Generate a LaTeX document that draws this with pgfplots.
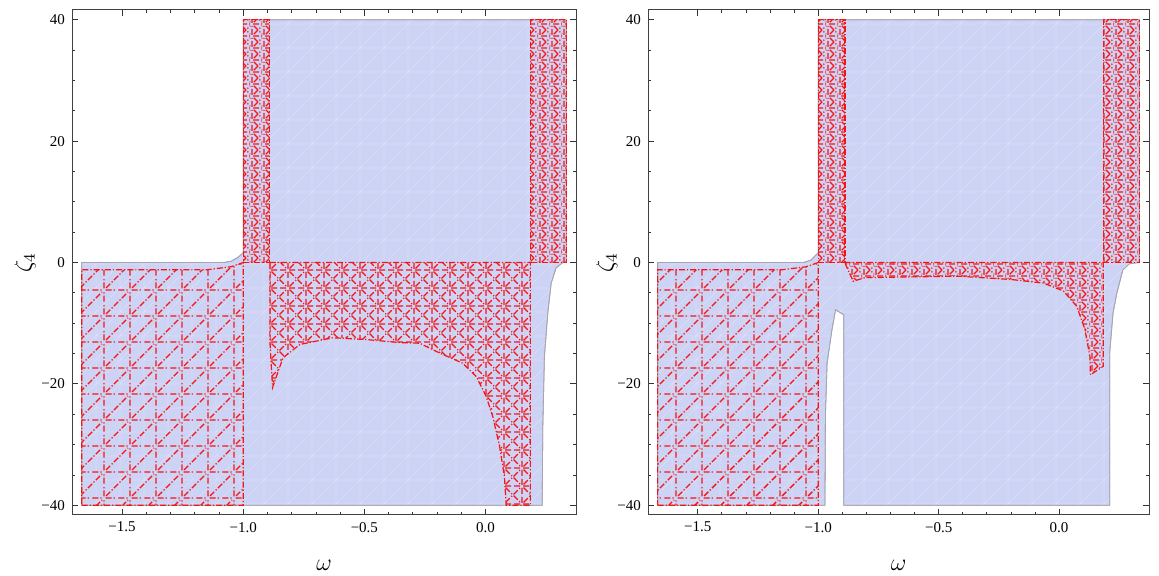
\documentclass[border=0pt]{standalone}
\usepackage{pgfplots}
\pgfplotsset{compat=1.18}
\usepackage{fontspec}
\setmainfont{Liberation Serif}
\usetikzlibrary{patterns}

\definecolor{regblue}{RGB}{205,211,244}
\definecolor{regline}{RGB}{218,222,248}
\definecolor{edge}{RGB}{165,165,178}
\definecolor{hatch}{RGB}{245,20,20}

% sparse mesh: horizontal, vertical, one diagonal (dashed look)
\pgfdeclarepatternformonly{meshS}{\pgfqpoint{-1pt}{-1pt}}{\pgfqpoint{14pt}{14pt}}{\pgfqpoint{13pt}{13pt}}{%
  \pgfsetlinewidth{0.7pt}%
  \pgfpathmoveto{\pgfqpoint{0.8pt}{0pt}}\pgfpathlineto{\pgfqpoint{5.8pt}{0pt}}%
  \pgfpathmoveto{\pgfqpoint{7.2pt}{0pt}}\pgfpathlineto{\pgfqpoint{12.2pt}{0pt}}%
  \pgfpathmoveto{\pgfqpoint{0pt}{0.8pt}}\pgfpathlineto{\pgfqpoint{0pt}{5.8pt}}%
  \pgfpathmoveto{\pgfqpoint{0pt}{7.2pt}}\pgfpathlineto{\pgfqpoint{0pt}{12.2pt}}%
  \pgfpathmoveto{\pgfqpoint{1pt}{1pt}}\pgfpathlineto{\pgfqpoint{12pt}{12pt}}%
  \pgfusepath{stroke}}
% medium mesh: four directions
\pgfdeclarepatternformonly{meshM}{\pgfqpoint{-1pt}{-1pt}}{\pgfqpoint{10pt}{10pt}}{\pgfqpoint{9pt}{9pt}}{%
  \pgfsetlinewidth{0.65pt}%
  \pgfpathmoveto{\pgfqpoint{0.6pt}{0pt}}\pgfpathlineto{\pgfqpoint{4pt}{0pt}}%
  \pgfpathmoveto{\pgfqpoint{5pt}{0pt}}\pgfpathlineto{\pgfqpoint{8.4pt}{0pt}}%
  \pgfpathmoveto{\pgfqpoint{0pt}{0.6pt}}\pgfpathlineto{\pgfqpoint{0pt}{4pt}}%
  \pgfpathmoveto{\pgfqpoint{0pt}{5pt}}\pgfpathlineto{\pgfqpoint{0pt}{8.4pt}}%
  \pgfpathmoveto{\pgfqpoint{0.8pt}{0.8pt}}\pgfpathlineto{\pgfqpoint{8.2pt}{8.2pt}}%
  \pgfpathmoveto{\pgfqpoint{0.8pt}{8.2pt}}\pgfpathlineto{\pgfqpoint{8.2pt}{0.8pt}}%
  \pgfusepath{stroke}}
% dense mesh
\pgfdeclarepatternformonly{meshD}{\pgfqpoint{-1pt}{-1pt}}{\pgfqpoint{7pt}{7pt}}{\pgfqpoint{6pt}{6pt}}{%
  \pgfsetlinewidth{0.6pt}%
  \pgfpathmoveto{\pgfqpoint{0.5pt}{0pt}}\pgfpathlineto{\pgfqpoint{5.5pt}{0pt}}%
  \pgfpathmoveto{\pgfqpoint{0pt}{0.5pt}}\pgfpathlineto{\pgfqpoint{0pt}{5.5pt}}%
  \pgfpathmoveto{\pgfqpoint{0.9pt}{0.9pt}}\pgfpathlineto{\pgfqpoint{5.1pt}{5.1pt}}%
  \pgfpathmoveto{\pgfqpoint{0.9pt}{5.1pt}}\pgfpathlineto{\pgfqpoint{5.1pt}{0.9pt}}%
  \pgfusepath{stroke}}
% faint mesh on the blue region
\pgfdeclarepatternformonly{meshW}{\pgfqpoint{-1pt}{-1pt}}{\pgfqpoint{13pt}{13pt}}{\pgfqpoint{12pt}{12pt}}{%
  \pgfsetlinewidth{0.35pt}%
  \pgfpathmoveto{\pgfqpoint{0pt}{0pt}}\pgfpathlineto{\pgfqpoint{12pt}{0pt}}%
  \pgfpathmoveto{\pgfqpoint{0pt}{0pt}}\pgfpathlineto{\pgfqpoint{0pt}{12pt}}%
  \pgfpathmoveto{\pgfqpoint{0pt}{0pt}}\pgfpathlineto{\pgfqpoint{12pt}{12pt}}%
  \pgfusepath{stroke}}

\pgfplotsset{
  myax/.style={
    scale only axis, height=252.5pt,
    xmin=-1.70667, xmax=0.37333, ymin=-41.6, ymax=41.6,
    xtick={-1.5,-1,-0.5,0}, xticklabels={−1.5,−1.0,−0.5,0.0},
    ytick={-40,-20,0,20,40}, yticklabels={−40,−20,0,20,40},
    minor x tick num=4, minor y tick num=3,
    tick align=inside, tick pos=both,
    major tick length=3pt, minor tick length=1.7pt,
    axis line style={black!75, line width=0.5pt},
    tick style={black!80, line width=0.4pt},
    ticklabel style={font=\fontsize{7.5}{9}\selectfont},
    xlabel={$\omega$}, ylabel={$\zeta_4$},
    label style={font=\fontsize{11.5}{13}\selectfont},
    xlabel style={at={(axis description cs:0.5,-0.099)}, anchor=center},
    axis on top,
  },
  blue/.style={fill=regblue, draw=edge, line width=0.4pt,
    postaction={pattern=meshW, pattern color=regline}},
  redS/.style={pattern=meshS, pattern color=hatch, draw=hatch, line width=0.6pt,
    dash pattern=on 3pt off 1pt on 0.6pt off 1pt},
  redM/.style={pattern=meshM, pattern color=hatch, draw=hatch, line width=0.6pt,
    dash pattern=on 3pt off 1pt on 0.6pt off 1pt},
  redD/.style={pattern=meshD, pattern color=hatch, draw=hatch, line width=0.6pt,
    dash pattern=on 3pt off 1pt on 0.6pt off 1pt},
}

\begin{document}
\begin{tikzpicture}
\useasboundingbox (0,0) rectangle (579.5pt,288pt);

% ---------------- left panel ----------------
\begin{axis}[myax, at={(36pt,30.5pt)}, anchor=south west, width=252pt,
  ylabel style={at={(axis description cs:-0.093,0.5)}, anchor=center}]
\addplot[blue] coordinates {
 (-1.6667,-40) (0.234,-40) (0.236,-27.6) (0.243,-15.5) (0.257,-8.3) (0.271,-3.4)
 (0.291,-0.9) (0.319,0) (0.3333,0) (0.3333,40) (-1.0,40) (-1.0,1.6) (-1.02,0.9)
 (-1.05,0.2) (-1.08,0) (-1.6667,0) (-1.6667,-40)};
% red strips above
\addplot[redD] coordinates {(-1.0,0) (-0.892,0) (-0.892,40) (-1.0,40) (-1.0,0)};
\addplot[redD] coordinates {(0.186,0) (0.3333,0) (0.3333,40) (0.186,40) (0.186,0)};
% lower-left block
\addplot[redS] coordinates {(-1.6667,-40) (-1.0,-40) (-1.0,0) (-1.05,-0.7) (-1.15,-1.2)
 (-1.6667,-1.2) (-1.6667,-40)};
% lower-middle region
\addplot[redM] coordinates {
 (-0.89,0) (0.185,0) (0.185,-40) (0.085,-40) (0.078,-35.3) (0.058,-30.3) (0.03,-25.4)
 (0.003,-22.1) (-0.038,-18.8) (-0.094,-16.6) (-0.19,-14.9) (-0.272,-13.3) (-0.354,-13.2)
 (-0.49,-12.7) (-0.63,-12.4) (-0.766,-13.5) (-0.836,-15.7) (-0.879,-20.6) (-0.89,-13)
 (-0.89,0)};
\end{axis}

% ---------------- right panel ----------------
\begin{axis}[myax, at={(324pt,30.5pt)}, anchor=south west, width=250.5pt,
  ylabel style={at={(axis description cs:-0.082,0.5)}, anchor=center}]
\addplot[blue] coordinates {
 (-1.6667,-40) (-0.972,-40) (-0.97,-25) (-0.963,-16.5) (-0.943,-11.1) (-0.928,-7.8)
 (-0.894,-8.6) (-0.894,-40) (0.21,-40) (0.21,-14.9) (0.224,-8.3) (0.24,-5) (0.265,-1.2)
 (0.292,-0.2) (0.3333,0) (0.3333,40) (-1.0,40) (-1.0,1.6) (-1.03,0.4) (-1.06,0)
 (-1.6667,0) (-1.6667,-40)};
\addplot[redD] coordinates {(-1.0,0) (-0.889,0) (-0.889,40) (-1.0,40) (-1.0,0)};
\addplot[redD] coordinates {(0.184,0) (0.3333,0) (0.3333,40) (0.184,40) (0.184,0)};
\addplot[redS] coordinates {(-1.6667,-40) (-1.0,-40) (-1.0,0) (-1.05,-0.7) (-1.15,-1.2)
 (-1.6667,-1.2) (-1.6667,-40)};
\addplot[redD] coordinates {
 (-0.89,0) (0.183,0) (0.183,-17.1) (0.13,-18.5) (0.128,-15.5) (0.107,-11) (0.073,-7.2)
 (0.018,-4.7) (-0.064,-3.4) (-0.2,-2.8) (-0.42,-2.25) (-0.807,-2.5) (-0.855,-3.1)
 (-0.89,0)};
\end{axis}
\end{tikzpicture}
\end{document}
